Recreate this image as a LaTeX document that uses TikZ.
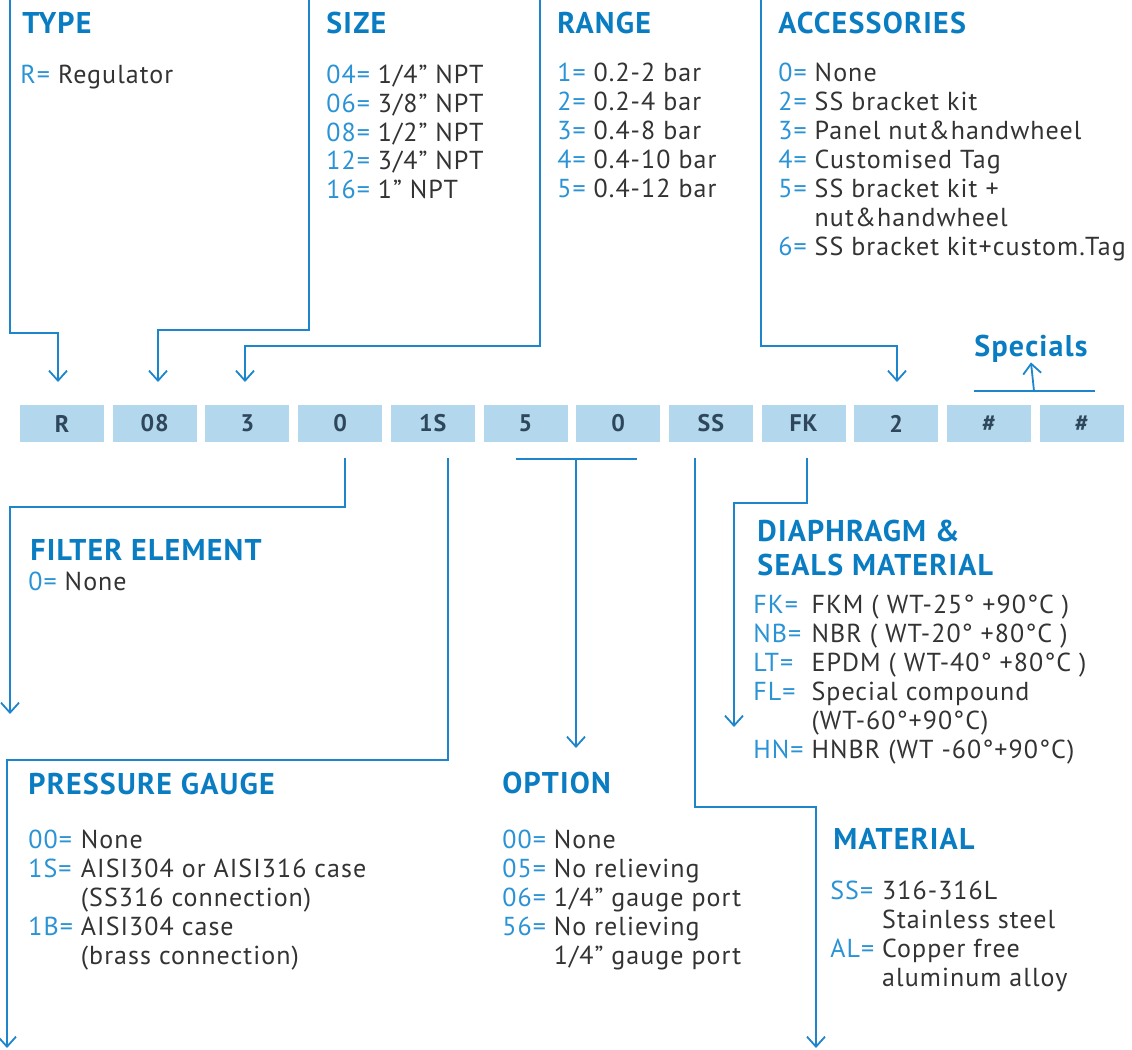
\documentclass[tikz,border=0pt]{standalone}
\usepackage{fontspec}
\setmainfont{PT Sans}[LetterSpace=4]
\usetikzlibrary{arrows.meta}

\definecolor{headblue}{HTML}{0A7DC2}
\definecolor{keyblue}{HTML}{2A93D5}
\definecolor{lineblue}{HTML}{1C85CC}
\definecolor{boxblue}{HTML}{B3D7EC}
\definecolor{boxtext}{HTML}{2E475C}
\definecolor{bodytext}{HTML}{333333}

\newcommand{\kv}[1]{\textcolor{keyblue}{#1}}
\newcommand{\codelist}[1]{\begin{tabular}[t]{@{}l@{\ }l@{}}#1\end{tabular}}

\tikzset{
  codebox/.style={fill=boxblue, text=boxtext, minimum width=42pt, minimum height=18.5pt,
    inner sep=0pt, font=\fontsize{12}{14}\selectfont\bfseries},
  head/.style={anchor=base west, inner sep=0pt, text=headblue,
    font=\fontsize{15}{17}\selectfont\bfseries},
  list/.style={anchor=base west, inner sep=0pt, text=bodytext,
    font=\fontsize{13}{14.5}\selectfont},
  link/.style={draw=lineblue, line width=0.9pt},
  >={Straight Barb[length=5pt,width=9pt]}
}

\begin{document}
\begin{tikzpicture}[x=0.5pt, y=-0.5pt]
	\useasboundingbox (0,0) rectangle (1132,1050);

	% code boxes
	\node [codebox] (typebox) at (62,423.5) {R};
	\node [codebox] (sizebox) at (154.7,423.5) {08};
	\node [codebox] (rangebox) at (247.4,423.5) {3};
	\node [codebox] (filterbox) at (340.1,423.5) {0};
	\node [codebox] (gaugebox) at (432.8,423.5) {1S};
	\node [codebox] (optbox) at (525.5,423.5) {5};
	\node [codebox] (optboxb) at (618.2,423.5) {0};
	\node [codebox] (matbox) at (710.9,423.5) {SS};
	\node [codebox] (sealbox) at (803.6,423.5) {FK};
	\node [codebox] (accbox) at (896.3,423.5) {2};
	\node [codebox] (specbox) at (989,423.5) {\#};
	\node [codebox] (specboxb) at (1081.7,423.5) {\#};

	% top groups
	\node [head] (typehead) at (22,33) {TYPE};
	\node [list] (typelist) at (20,83) {\codelist{\kv{R=} & Regulator}};
	\node [head] (sizehead) at (326,33) {SIZE};
	\node [list] (sizelist) at (326,83) {\codelist{
		\kv{04=} & 1/4” NPT\\ \kv{06=} & 3/8” NPT\\ \kv{08=} & 1/2” NPT\\
		\kv{12=} & 3/4” NPT\\ \kv{16=} & 1” NPT}};
	\node [head] (rangehead) at (557,33) {RANGE};
	\node [list] (rangelist) at (557,81) {\codelist{
		\kv{1=} & 0.2-2 bar\\ \kv{2=} & 0.2-4 bar\\ \kv{3=} & 0.4-8 bar\\
		\kv{4=} & 0.4-10 bar\\ \kv{5=} & 0.4-12 bar}};
	\node [head] (acchead) at (778,33) {ACCESSORIES};
	\node [list] (acclist) at (778,81) {\codelist{
		\kv{0=} & None\\ \kv{2=} & SS bracket kit\\ \kv{3=} & Panel nut\&handwheel\\
		\kv{4=} & Customised Tag\\ \kv{5=} & SS bracket kit +\\ & nut\&handwheel\\
		\kv{6=} & SS bracket kit+custom.Tag}};
	\node [head, anchor=base] (specials) at (1031,356) {Specials};

	% bottom groups
	\node [head] (filterhead) at (30,560) {FILTER ELEMENT};
	\node [list] (filterlist) at (28,590) {\codelist{\kv{0=} & None}};
	\node [head] (sealhead) at (757,541) {\begin{tabular}[t]{@{}l@{}}DIAPHRAGM \&\\ SEALS MATERIAL\end{tabular}};
	\node [list] (seallist) at (753,613) {\codelist{
		\kv{FK=} & FKM ( WT-25° +90°C )\\ \kv{NB=} & NBR ( WT-20° +80°C )\\
		\kv{LT=} & EPDM ( WT-40° +80°C )\\ \kv{FL=} & Special compound\\
		& (WT-60°+90°C)\\ \kv{HN=} & HNBR (WT -60°+90°C)}};
	\node [head] (gaugehead) at (28,794) {PRESSURE GAUGE};
	\node [list] (gaugelist) at (28,848) {\codelist{
		\kv{00=} & None\\ \kv{1S=} & AISI304 or AISI316 case\\ & (SS316 connection)\\
		\kv{1B=} & AISI304 case\\ & (brass connection)}};
	\node [head] (opthead) at (502,793) {OPTION};
	\node [list] (optlist) at (502,848) {\codelist{
		\kv{00=} & None\\ \kv{05=} & No relieving\\ \kv{06=} & 1/4” gauge port\\
		\kv{56=} & No relieving\\ & 1/4” gauge port}};
	\node [head] (mathead) at (833,849) {MATERIAL};
	\node [list] (matlist) at (830,899) {\codelist{
		\kv{SS=} & 316-316L\\ & Stainless steel\\ \kv{AL=} & Copper free\\ & aluminum alloy}};

	% leader ends
	\coordinate (typefrom) at (10,0);
	\coordinate (typeto) at (58,382);
	\coordinate (sizefrom) at (309,0);
	\coordinate (sizeto) at (158,382);
	\coordinate (rangefrom) at (540,0);
	\coordinate (rangeto) at (245,382);
	\coordinate (accfrom) at (761,0);
	\coordinate (accto) at (897,382);
	\coordinate (specfrom) at (1034,391);
	\coordinate (filterfrom) at (345,458);
	\coordinate (filterto) at (10,714);
	\coordinate (gaugefrom) at (448,458);
	\coordinate (gaugeto) at (7,1048);
	\coordinate (optfrom) at (576,459);
	\coordinate (optto) at (576,748);
	\coordinate (matfrom) at (695,458);
	\coordinate (matto) at (816,1048);
	\coordinate (sealfrom) at (807,458);
	\coordinate (sealto) at (734,727);

	% leaders into the code
	\draw [link, ->] (typefrom) -- (10,333) -| (typeto);
	\draw [link, ->] (sizefrom) -- (309,330) -| (sizeto);
	\draw [link, ->] (rangefrom) -- (540,346) -| (rangeto);
	\draw [link, ->] (accfrom) -- (761,346) -| (accto);
	\draw [link] (974,391) -- (1095,391);
	\draw [link, ->] (specfrom) -- (specials.south);

	% leaders out of the code
	\draw [link, ->] (filterfrom) -- (345,507) -| (filterto);
	\draw [link, ->] (gaugefrom) -- (448,760) -| (gaugeto);
	\draw [link] (516,459) -- (637,459);
	\draw [link, ->] (optfrom) -- (optto);
	\draw [link, ->] (matfrom) -- (695,807) -| (matto);
	\draw [link, ->] (sealfrom) -- (807,503) -| (sealto);
\end{tikzpicture}
\end{document}
